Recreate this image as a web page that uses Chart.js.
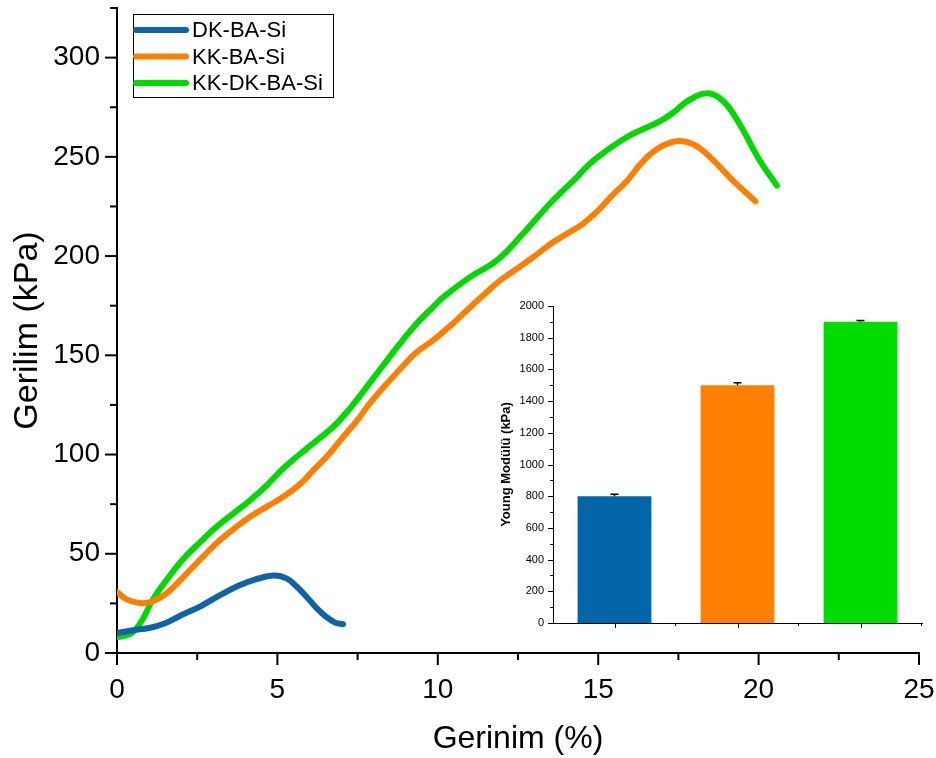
<!DOCTYPE html>
<html>
<head>
<meta charset="utf-8">
<script src="https://cdn.jsdelivr.net/npm/chart.js@4.4.0/dist/chart.umd.min.js"></script>
<style>
  body { margin: 0; background: #fff; }
  #wrap { position: relative; width: 936px; height: 758px; }
  #main { position: absolute; left: 0; top: 0; }
  #inset { position: absolute; left: 490px; top: 290px; }
</style>
</head>
<body>
<div id="wrap">
  <canvas id="main" width="936" height="758"></canvas>
  <canvas id="inset" width="440" height="350"></canvas>
</div>
<script>
// stress-strain curves
const dkStrain = [0, 0.5, 1.0, 1.5, 2.0, 2.6, 3.2, 3.8, 4.3, 4.9, 5.3, 5.6, 5.9, 6.2, 6.5, 6.8, 7.05];
const dkStress = [10, 11.5, 12.6, 15, 19, 23.5, 29, 34, 37, 39, 37.5, 33.5, 28.5, 23, 18.5, 15.3, 14.5];

const kkStrain = [0, 0.3, 0.7, 1.0, 1.25, 1.5, 1.75, 2.07, 2.59, 3.1, 3.6, 4.15, 4.7, 5.18, 5.7, 6.22, 6.6, 7.05, 7.5, 7.89, 8.4, 8.82,
  9.3, 9.85, 10.4, 10.9, 11.4, 11.94, 12.5, 12.97, 13.5, 14.0, 14.5, 15.0, 15.4, 15.9, 16.3, 16.6, 17.0, 17.5, 18.0, 18.5, 19.2, 19.9];
const kkStress = [30.7, 27, 25.2, 25.5, 27, 29.5, 33, 38.4, 47, 55.3, 62, 68.6, 74, 78.7, 85, 93.8, 100, 108.9, 117.5, 126, 135.5, 143,
  151, 157.5, 165, 172.6, 180, 187.7, 194, 199.4, 206, 211, 216, 223, 230, 238, 246, 251, 255.5, 258, 256, 249.6, 238, 227.6];

const kkdkStrain = [0, 0.2, 0.5, 0.8, 1.03, 1.24, 1.6, 2.07, 2.6, 3.1, 3.6, 4.15, 4.7, 5.18, 5.91, 6.74, 7.3, 7.78, 8.3, 8.8,
  9.34, 9.8, 10.17, 11.0, 11.84, 12.66, 13.5, 14.33, 14.84, 15.9, 16.93, 17.4, 17.77, 18.4, 18.9, 19.4, 20.04, 20.57];
const kkdkStress = [8, 8.5, 10.6, 17, 24.5, 30, 38, 47.5, 56, 63.6, 70, 77, 85, 93, 103, 114, 124, 134, 145, 155.5,
  166, 173.5, 179.3, 189.4, 197.8, 211.4, 226.5, 239.7, 248, 260, 268, 273, 278, 282, 278, 266.7, 248, 235.5];

const seriesNames = ['DK-BA-Si', 'KK-BA-Si', 'KK-DK-BA-Si'];
const seriesColors = ['#0e64a6', '#ff8000', '#00d800'];

const xTicks = [0, 5, 10, 15, 20, 25];
const xMinor = [2.5, 7.5, 12.5, 17.5, 22.5];
const yTicks = [0, 50, 100, 150, 200, 250, 300];
const yMinor = [25, 75, 125, 175, 225, 275, 325];

// inset: Young modulus bars
const modulus = [800, 1500, 1900];
const modulusErr = [12, 16, 8];
const insetYTicks = [0, 200, 400, 600, 800, 1000, 1200, 1400, 1600, 1800, 2000];
const insetYMinor = [100, 300, 500, 700, 900, 1100, 1300, 1500, 1700, 1900];

const toPoints = (xs, ys) => xs.map((x, i) => ({ x: x, y: ys[i] }));

// outward tick marks, long for majors and short for minors
const tickMarks = {
  id: 'tickMarks',
  afterDraw(chart, args, opts) {
    const ctx = chart.ctx;
    const xs = chart.scales.x, ys = chart.scales.y;
    ctx.save();
    ctx.strokeStyle = '#000';
    ctx.lineWidth = opts.width;
    const draw = (list, len, horiz) => {
      list.forEach(v => {
        ctx.beginPath();
        if (horiz) {
          const px = xs.getPixelForValue(v);
          ctx.moveTo(px, ys.bottom);
          ctx.lineTo(px, ys.bottom + len);
        } else {
          const py = ys.getPixelForValue(v);
          ctx.moveTo(xs.left, py);
          ctx.lineTo(xs.left - len, py);
        }
        ctx.stroke();
      });
    };
    draw(opts.xMajor, opts.majorLen, true);
    draw(opts.xMinor, opts.minorLen, true);
    draw(opts.yMajor, opts.majorLen, false);
    draw(opts.yMinor, opts.minorLen, false);
    ctx.restore();
  }
};

// boxed legend in the upper left corner
const boxLegend = {
  id: 'boxLegend',
  afterDraw(chart, args, opts) {
    const ctx = chart.ctx;
    ctx.save();
    ctx.strokeStyle = '#000';
    ctx.lineWidth = 1;
    ctx.strokeRect(opts.x + 0.5, opts.y + 0.5, opts.w, opts.h);
    ctx.font = opts.font;
    ctx.textBaseline = 'middle';
    chart.data.datasets.forEach((ds, i) => {
      const cy = opts.y + 16 + i * 26.5;
      ctx.strokeStyle = ds.borderColor;
      ctx.lineWidth = 6;
      ctx.lineCap = 'round';
      ctx.beginPath();
      ctx.moveTo(opts.x + 3, cy);
      ctx.lineTo(opts.x + 53, cy);
      ctx.stroke();
      ctx.fillStyle = '#000';
      ctx.fillText(ds.label, opts.x + 59, cy + 1);
    });
    ctx.restore();
  }
};

const noPadY = s => { s.width = 117; s.paddingTop = 0; s.paddingBottom = 0; };
const noPadX = s => { s.height = 105; s.paddingLeft = 0; s.paddingRight = 0; };

new Chart(document.getElementById('main'), {
  type: 'line',
  data: {
    datasets: [
      { label: seriesNames[0], data: toPoints(dkStrain, dkStress), borderColor: seriesColors[0] },
      { label: seriesNames[1], data: toPoints(kkStrain, kkStress), borderColor: seriesColors[1] },
      { label: seriesNames[2], data: toPoints(kkdkStrain, kkdkStress), borderColor: seriesColors[2] }
    ]
  },
  options: {
    responsive: false,
    animation: false,
    devicePixelRatio: 1,
    layout: { padding: { top: 8, right: 17, left: 0, bottom: 0 } },
    elements: {
      line: { borderWidth: 6, tension: 0.4, borderCapStyle: 'round', borderJoinStyle: 'round' },
      point: { radius: 0 }
    },
    plugins: {
      legend: { display: false },
      tooltip: { enabled: false },
      tickMarks: { xMajor: xTicks, xMinor: xMinor, yMajor: yTicks, yMinor: yMinor, majorLen: 12, minorLen: 7, width: 2 },
      boxLegend: { x: 133, y: 14, w: 200, h: 83, font: '22px "Liberation Sans", Arial, sans-serif' }
    },
    scales: {
      x: {
        type: 'linear',
        min: 0,
        max: 25,
        afterBuildTicks: s => { s.ticks = xTicks.map(v => ({ value: v })); },
        afterFit: noPadX,
        grid: { display: false, drawTicks: false },
        border: { display: true, color: '#000', width: 2 },
        ticks: { color: '#000', padding: 20, maxRotation: 0, font: { family: '"Liberation Sans", Arial, sans-serif', size: 28 } },
        title: { display: true, text: 'Gerinim (%)', color: '#000', padding: { top: 0, bottom: 0 },
          font: { family: '"Liberation Sans", Arial, sans-serif', size: 32 } }
      },
      y: {
        min: 0,
        max: 325,
        afterBuildTicks: s => { s.ticks = yTicks.map(v => ({ value: v })); },
        afterFit: noPadY,
        grid: { display: false, drawTicks: false },
        border: { display: true, color: '#000', width: 2 },
        ticks: { color: '#000', padding: 17, font: { family: '"Liberation Sans", Arial, sans-serif', size: 28 } },
        title: { display: true, text: 'Gerilim (kPa)', color: '#000', padding: { top: 7, bottom: 0 },
          font: { family: '"Liberation Sans", Arial, sans-serif', size: 34 } }
      }
    }
  },
  plugins: [tickMarks, boxLegend]
});

// error bars (upper half shows above the bar) and inset ticks
const insetExtras = {
  id: 'insetExtras',
  afterDraw(chart, args, opts) {
    const ctx = chart.ctx;
    const xs = chart.scales.x, ys = chart.scales.y;
    ctx.save();
    ctx.strokeStyle = '#000';
    ctx.lineWidth = 1.5;
    const ds = chart.data.datasets[0];
    ds.data.forEach((v, i) => {
      const px = xs.getPixelForValue(i);
      const top = ys.getPixelForValue(v + opts.err[i]);
      const base = ys.getPixelForValue(v);
      ctx.beginPath();
      ctx.moveTo(px, base);
      ctx.lineTo(px, top);
      ctx.moveTo(px - 4, top);
      ctx.lineTo(px + 4, top);
      ctx.stroke();
    });
    ctx.lineWidth = 1;
    [0, 1, 2].forEach(i => {
      const px = Math.round(xs.getPixelForValue(i)) + 0.5;
      ctx.beginPath(); ctx.moveTo(px, ys.bottom); ctx.lineTo(px, ys.bottom + 5); ctx.stroke();
    });
    [0.5, 1.5, 2.5].forEach(i => {
      const px = Math.round(xs.getPixelForValue(i)) - 0.5;
      ctx.beginPath(); ctx.moveTo(px, ys.bottom); ctx.lineTo(px, ys.bottom + 3); ctx.stroke();
    });
    insetYTicks.forEach(v => {
      const py = Math.round(ys.getPixelForValue(v)) + 0.5;
      ctx.beginPath(); ctx.moveTo(xs.left, py); ctx.lineTo(xs.left - 5, py); ctx.stroke();
    });
    insetYMinor.forEach(v => {
      const py = Math.round(ys.getPixelForValue(v)) + 0.5;
      ctx.beginPath(); ctx.moveTo(xs.left, py); ctx.lineTo(xs.left - 3, py); ctx.stroke();
    });
    ctx.restore();
  }
};

new Chart(document.getElementById('inset'), {
  type: 'bar',
  data: {
    labels: seriesNames,
    datasets: [{
      data: modulus,
      backgroundColor: ['#0366a8', '#ff8000', '#00dc00'],
      barPercentage: 0.6,
      categoryPercentage: 1
    }]
  },
  options: {
    responsive: false,
    animation: false,
    devicePixelRatio: 1,
    layout: { padding: { top: 16, right: 8, left: 0, bottom: 0 } },
    plugins: {
      legend: { display: false },
      tooltip: { enabled: false },
      insetExtras: { err: modulusErr }
    },
    scales: {
      x: {
        afterFit: s => { s.height = 17; s.paddingLeft = 0; s.paddingRight = 0; },
        grid: { display: false, drawTicks: false },
        border: { display: true, color: '#000', width: 1 },
        ticks: { display: false }
      },
      y: {
        min: 0,
        max: 2000,
        afterBuildTicks: s => { s.ticks = insetYTicks.map(v => ({ value: v })); },
        afterFit: s => { s.width = 63; s.paddingTop = 0; s.paddingBottom = 0; },
        grid: { display: false, drawTicks: false },
        border: { display: true, color: '#000', width: 1 },
        ticks: { color: '#000', padding: 9, callback: v => String(v),
          font: { family: '"Liberation Sans", Arial, sans-serif', size: 11 } },
        title: { display: true, text: 'Young Modülü (kPa)', color: '#000', padding: { top: 9, bottom: 0 },
          font: { family: '"Liberation Sans", Arial, sans-serif', size: 13, weight: 'bold' } }
      }
    }
  },
  plugins: [insetExtras]
});
</script>
</body>
</html>
